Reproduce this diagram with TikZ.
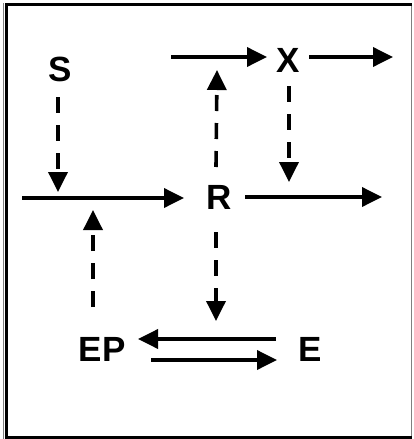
\documentclass[tikz,border=0pt]{standalone}
\usepackage{fontspec}
\setmainfont{Liberation Sans}
\usetikzlibrary{arrows.meta}
\begin{document}
\begin{tikzpicture}[x=1pt,y=-1pt,
  lbl/.style={inner sep=0pt,font=\fontsize{35}{35}\selectfont\bfseries},
  arr/.style={line width=3.6pt,-{Triangle[length=20pt,width=19pt]}},
  darr/.style={arr,dash pattern=on 16pt off 12pt}]
\useasboundingbox (0,0) rectangle (413,439);
% frame
\draw[gray,line width=0.8pt] (3.5,3) -- (3.5,438.5);
\draw[gray,line width=1pt] (411.5,3) -- (411.5,438.5);
\draw[line width=3.5pt] (411.5,4.5) -- (6.7,4.5) -- (6.7,437.6) -- (411.5,437.6);
% labels
\node[lbl] (S) at (60,69) {S};
\node[lbl] (X) at (288,60) {X};
\node[lbl] (R) at (219,197) {R};
\node[lbl] (EP) at (102,349) {EP};
\node[lbl] (E) at (310,349) {E};
% free ends
\coordinate (a0) at (171,57);
\coordinate (b1) at (393,57);
\coordinate (c0) at (22,198);
\coordinate (d1) at (382,197);
\coordinate (sT) at (58,192);
\coordinate (rT) at (217,70);
\coordinate (xT) at (289,182);
\coordinate (eT) at (93,210);
\coordinate (rB) at (216,321);
% solid arrows
\draw[arr] (a0) -- ([xshift=-21pt,yshift=3pt]X.center);
\draw[arr] ([xshift=21pt,yshift=3pt]X.center) -- (b1);
\draw[arr] (c0) -- ([xshift=-35pt,yshift=-1pt]R.center);
\draw[arr] ([xshift=26pt]R.center) -- (d1);
\draw[arr] ([xshift=-34pt,yshift=10pt]E.center) -- ([xshift=36pt,yshift=10pt]EP.center);
\draw[arr] ([xshift=49pt,yshift=-11pt]EP.center) -- ([xshift=-33pt,yshift=-11pt]E.center);
% dashed arrows
\draw[darr] ([xshift=-2pt,yshift=-28pt]S.center) -- (sT);
\draw[darr] ([xshift=-3pt,yshift=30pt]R.center) -- (rT);
\draw[darr] ([xshift=1pt,yshift=-26pt]X.center) -- (xT);
\draw[darr] ([xshift=-9pt,yshift=42pt]EP.center) -- (eT);
\draw[darr] ([xshift=-3pt,yshift=-35pt]R.center) -- (rB);
\end{tikzpicture}
\end{document}
